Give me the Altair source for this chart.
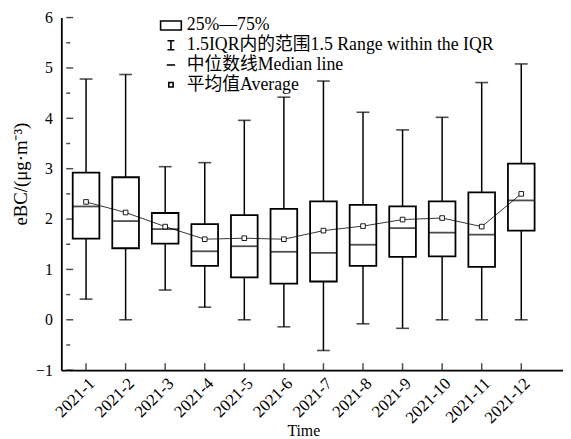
import altair as alt
import pandas as pd

# ---- data ----
months = ["2021-1", "2021-2", "2021-3", "2021-4", "2021-5", "2021-6",
          "2021-7", "2021-8", "2021-9", "2021-10", "2021-11", "2021-12"]
upper = [4.78, 4.87, 3.04, 3.12, 3.96, 4.42, 4.74, 4.12, 3.77, 4.02, 4.71, 5.08]
q3 = [2.92, 2.83, 2.12, 1.90, 2.08, 2.20, 2.35, 2.28, 2.25, 2.35, 2.53, 3.10]
median = [2.25, 1.96, 1.80, 1.36, 1.46, 1.35, 1.33, 1.49, 1.82, 1.73, 1.69, 2.37]
q1 = [1.61, 1.42, 1.51, 1.07, 0.84, 0.72, 0.76, 1.07, 1.25, 1.26, 1.05, 1.77]
lower = [0.41, 0.00, 0.59, 0.25, 0.00, -0.14, -0.61, -0.08, -0.17, 0.00, 0.00, 0.00]
mean = [2.34, 2.13, 1.85, 1.60, 1.62, 1.60, 1.77, 1.86, 1.99, 2.02, 1.85, 2.50]

y_major = [-1, 0, 1, 2, 3, 4, 5, 6]
y_minor = [-0.5, 0.5, 1.5, 2.5, 3.5, 4.5, 5.5]
legend_labels = ["25%\u201475%", "1.5IQR内的范围1.5 Range within the IQR",
                 "中位数线Median line", "平均值Average"]

X_DOMAIN = [0.5, 12.93]
Y_DOMAIN = [-1, 6]

FONT = "Liberation Serif, Noto Sans CJK SC"

df = pd.DataFrame({
    "idx": list(range(1, len(months) + 1)),
    "month": months, "upper": upper, "q3": q3, "median": median,
    "q1": q1, "lower": lower, "mean": mean,
})
ymaj = pd.DataFrame({"v": y_major})
ymin = pd.DataFrame({"v": y_minor})
leg = pd.DataFrame({"item": legend_labels})

label_js = "[" + ",".join("'%s'" % m for m in months) + "]"

xscale = alt.Scale(domain=X_DOMAIN, nice=False, zero=False)
yscale = alt.Scale(domain=Y_DOMAIN, nice=False, zero=False)

xaxis = alt.Axis(values=list(range(1, len(months) + 1)),
                 labelExpr=label_js + "[datum.value-1]",
                 labelAngle=-45, labelOverlap=False, labelFlush=False,
                 ticks=False, grid=False,
                 labelFont=FONT, labelFontSize=17, labelColor="black",
                 labelPadding=5, domainColor="black", domainWidth=1.8,
                 title="Time", titleFont=FONT, titleFontSize=16,
                 titleFontWeight="normal", titleColor="black",
                 titleX=245, titleY=53)
yaxis = alt.Axis(values=y_major, format="d", ticks=False, grid=False,
                 labelFont=FONT, labelFontSize=16, labelColor="black",
                 labelPadding=9, domainColor="black", domainWidth=1.8,
                 title="eBC/(μg·m⁻³)", titleFont=FONT, titleFontSize=19,
                 titleFontWeight="normal", titleColor="black",
                 titleX=-31, titleY=158)

base = alt.Chart(df)
X = alt.X("idx:Q", scale=xscale, axis=xaxis)

whisker = base.mark_rule(color="black", strokeWidth=1.5).encode(
    x=X, y=alt.Y("lower:Q", scale=yscale, axis=yaxis), y2="upper:Q")
box = base.mark_bar(size=27, fill="white", stroke="black", strokeWidth=1.8).encode(
    x=X, y=alt.Y("q1:Q", scale=yscale), y2="q3:Q")
med = base.mark_tick(orient="horizontal", size=27, thickness=1.8, color="black").encode(
    x=X, y=alt.Y("median:Q", scale=yscale))
cap_hi = base.mark_tick(orient="horizontal", size=13, thickness=1.6, color="black").encode(
    x=X, y=alt.Y("upper:Q", scale=yscale))
cap_lo = base.mark_tick(orient="horizontal", size=13, thickness=1.6, color="black").encode(
    x=X, y=alt.Y("lower:Q", scale=yscale))
mline = base.mark_line(color="black", strokeWidth=0.8).encode(
    x=X, y=alt.Y("mean:Q", scale=yscale))
mpts = base.mark_point(shape="square", size=22, filled=True, fill="white",
                       stroke="black", strokeWidth=0.9, opacity=1).encode(
    x=X, y=alt.Y("mean:Q", scale=yscale))

xticks = base.mark_tick(orient="vertical", size=7, thickness=1.5, color="black",
                        yOffset=-3.5).encode(
    x=X, y=alt.datum(Y_DOMAIN[0], scale=yscale))
yticks_major = alt.Chart(ymaj).mark_tick(orient="horizontal", size=7, thickness=1.5,
                                         color="black", xOffset=3.5).encode(
    x=alt.datum(X_DOMAIN[0], scale=xscale), y=alt.Y("v:Q", scale=yscale))
yticks_minor = alt.Chart(ymin).mark_tick(orient="horizontal", size=4, thickness=1.5,
                                         color="black", xOffset=2).encode(
    x=alt.datum(X_DOMAIN[0], scale=xscale), y=alt.Y("v:Q", scale=yscale))

paths = [
    "M-1.05,-0.45H1.05V0.45H-1.05Z",
    "M-0.35,-0.45H0.35M0,-0.45V0.45M-0.35,0.45H0.35",
    "M-0.42,0H0.42",
    "M-0.22,-0.22H0.22V0.22H-0.22Z",
]
legend_layer = alt.Chart(leg).mark_point(opacity=0, color="black", filled=False).encode(
    shape=alt.Shape("item:N",
                    scale=alt.Scale(domain=legend_labels, range=paths),
                    legend=alt.Legend(title=None, orient="none", legendX=100, legendY=-3,
                                      symbolSize=400, symbolStrokeColor="black",
                                      symbolFillColor="transparent",
                                      symbolStrokeWidth=1.6, symbolOpacity=1,
                                      labelFont=FONT, labelFontSize=18,
                                      labelColor="black", labelLimit=600,
                                      labelOffset=5, rowPadding=-1))
)

chart = alt.layer(
    whisker, box, med, cap_hi, cap_lo, mline, mpts,
    xticks, yticks_major, yticks_minor, legend_layer
).properties(
    width=508, height=357,
    autosize=alt.AutoSizeParams(type="none"),
    padding={"left": 54, "top": 7, "right": 0, "bottom": 66},
).configure_view(stroke=None)

chart.save("out.html", embed_options={"renderer": "svg", "actions": False})
